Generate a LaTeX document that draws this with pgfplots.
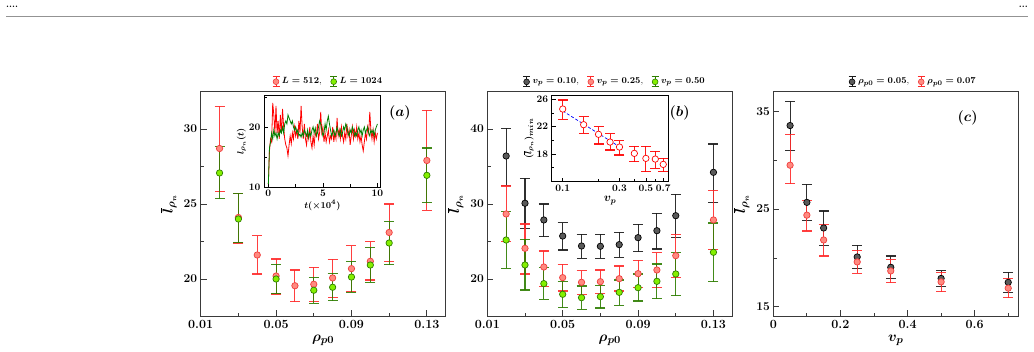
\documentclass[border=0pt]{standalone}
\usepackage{pgfplots}
\usepackage{pgfplotstable}
\pgfplotsset{compat=1.18}

\definecolor{redbar}{HTML}{FF2A2A}
\definecolor{redfill}{HTML}{FF8A80}
\definecolor{rededge}{HTML}{F03C3C}
\definecolor{greenbar}{HTML}{2E7D00}
\definecolor{greenfill}{HTML}{84F000}
\definecolor{greenedge}{HTML}{2E7D00}
\definecolor{greybar}{HTML}{1A1A1A}
\definecolor{greyfill}{HTML}{5A5A5A}
\definecolor{frame}{HTML}{3A3A3A}

% ---------- panel (a): mean domain length vs rho_p0 ----------
\pgfplotstableread{
x     y      lo     hi
0.02  28.70  25.85  31.50
0.03  24.10  22.40  25.70
0.04  21.60  20.33  22.87
0.05  20.20  19.00  21.33
0.06  19.55  18.49  20.60
0.07  19.65  18.50  20.78
0.08  20.07  18.78  21.31
0.09  20.69  19.16  22.22
0.10  21.18  19.93  22.47
0.11  23.10  21.16  25.00
0.13  27.90  24.57  31.24
}\aRed
\pgfplotstableread{
x     y      lo     hi
0.02  27.07  25.34  28.84
0.03  24.00  22.42  25.67
0.05  20.00  19.05  20.98
0.07  19.25  18.38  20.09
0.08  19.45  18.55  20.38
0.09  20.13  19.11  21.18
0.10  20.93  19.78  22.09
0.11  22.40  20.95  23.84
0.13  26.91  25.07  28.73
}\aGreen
% time series l_rho(t), t in units of 10^4
\pgfplotstableread{
t    l
0.0 10.5
0.1 16.0
0.2 18.0
0.3 17.5
0.4 24.0
0.5 22.0
0.6 19.0
0.7 23.5
0.8 19.0
0.9 21.0
1.0 18.0
1.1 22.0
1.2 19.0
1.3 23.0
1.4 20.0
1.5 18.0
1.6 17.0
1.7 16.5
1.8 15.2
1.9 17.0
2.0 18.5
2.1 17.2
2.2 19.0
2.3 18.0
2.4 20.0
2.5 18.5
2.6 19.5
2.7 18.0
2.8 21.0
2.9 19.0
3.0 23.5
3.1 20.0
3.2 18.0
3.3 20.5
3.4 18.0
3.5 17.0
3.6 19.0
3.7 18.0
3.8 20.0
3.9 17.5
4.0 16.5
4.1 18.5
4.2 17.0
4.3 19.0
4.4 18.5
4.5 20.5
4.6 18.0
4.7 19.0
4.8 22.5
4.9 19.0
5.0 20.0
5.1 17.5
5.2 19.0
5.3 17.5
5.4 18.5
5.5 19.5
5.6 17.5
5.7 18.5
5.8 18.0
5.9 20.0
6.0 17.5
6.1 19.0
6.2 18.0
6.3 21.5
6.4 18.5
6.5 19.5
6.6 18.0
6.7 20.0
6.8 18.5
6.9 17.5
7.0 19.0
7.1 18.0
7.2 20.5
7.3 18.5
7.4 19.5
7.5 17.0
7.6 18.5
7.7 20.0
7.8 18.0
7.9 19.5
8.0 18.5
8.1 20.0
8.2 18.0
8.3 19.0
8.4 17.5
8.5 18.5
8.6 17.0
8.7 16.0
8.8 17.5
8.9 19.0
9.0 18.0
9.1 20.0
9.2 19.0
9.3 22.5
9.4 19.5
9.5 18.0
9.6 19.5
9.7 17.5
9.8 19.0
9.9 18.0
10.0 19.0
}\tsRed
\pgfplotstableread{
t    l
0.0 10.5
0.1 16.5
0.2 17.5
0.3 19.0
0.4 18.0
0.5 19.5
0.6 18.5
0.7 19.0
0.8 18.0
0.9 19.0
1.0 18.5
1.1 19.5
1.2 19.0
1.3 20.0
1.4 19.0
1.5 20.5
1.6 21.0
1.7 20.5
1.8 22.0
1.9 21.5
2.0 21.0
2.1 20.5
2.2 21.0
2.3 20.0
2.4 19.5
2.5 20.0
2.6 19.0
2.7 19.5
2.8 18.5
2.9 18.8
3.0 18.3
3.1 19.0
3.2 18.5
3.3 19.5
3.4 19.0
3.5 18.5
3.6 19.5
3.7 18.2
3.8 19.0
3.9 18.5
4.0 19.5
4.1 20.0
4.2 19.0
4.3 19.8
4.4 18.5
4.5 19.0
4.6 20.0
4.7 21.0
4.8 20.5
4.9 19.5
5.0 18.5
5.1 19.0
5.2 20.5
5.3 19.5
5.4 21.0
5.5 21.8
5.6 20.5
5.7 19.5
5.8 18.5
5.9 19.0
6.0 19.5
6.1 18.5
6.2 19.0
6.3 20.0
6.4 19.0
6.5 18.5
6.6 19.5
6.7 18.5
6.8 19.0
6.9 20.0
7.0 19.5
7.1 20.5
7.2 20.0
7.3 19.0
7.4 18.5
7.5 19.5
7.6 19.0
7.7 20.0
7.8 19.5
7.9 18.5
8.0 19.0
8.1 18.5
8.2 19.5
8.3 20.0
8.4 19.0
8.5 19.5
8.6 18.5
8.7 19.5
8.8 20.0
8.9 19.0
9.0 19.5
9.1 20.0
9.2 19.0
9.3 18.5
9.4 19.5
9.5 19.0
9.6 19.5
9.7 18.5
9.8 19.5
9.9 20.0
10.0 20.5
}\tsGreen

% ---------- panel (b): three pinning velocities ----------
\pgfplotstableread{
x     y      lo     hi
0.02  36.40  32.44  40.10
0.03  30.10  26.76  33.43
0.04  27.87  25.64  30.00
0.05  25.73  23.87  27.51
0.06  24.40  22.76  25.96
0.07  24.36  22.76  25.96
0.08  24.58  22.89  26.22
0.09  25.51  23.64  27.29
0.10  26.44  24.00  28.76
0.11  28.44  25.56  31.29
0.13  34.22  30.18  38.00
}\bBlack
\pgfplotstableread{
x     y      lo     hi
0.02  28.67  24.98  32.40
0.03  24.09  20.67  27.33
0.04  21.60  18.98  23.73
0.05  20.18  18.40  21.96
0.06  19.56  17.96  21.11
0.07  19.64  18.04  21.20
0.08  20.04  18.40  21.73
0.09  20.71  18.89  22.49
0.10  21.20  18.89  23.51
0.11  23.11  20.22  25.96
0.13  27.87  23.96  31.78
}\bRed
\pgfplotstableread{
x     y      lo     hi
0.02  25.20  21.42  28.98
0.03  21.87  18.53  25.29
0.04  19.38  17.29  21.51
0.05  17.96  16.18  19.70
0.06  17.51  15.96  19.07
0.07  17.64  16.13  19.15
0.08  18.22  16.49  19.87
0.09  18.84  17.07  20.67
0.10  19.69  17.38  22.00
0.11  20.67  17.78  23.56
0.13  23.56  19.64  27.47
}\bGreen
% minimum of the mean length vs v_p
\pgfplotstableread{
x     y      lo     hi
0.10  24.58  23.10  25.90
0.15  22.29  21.00  23.45
0.20  20.88  19.46  22.00
0.25  19.75  18.58  20.97
0.30  19.02  17.86  19.95
0.40  18.09  16.86  19.12
0.50  17.36  15.40  19.16
0.60  17.26  15.90  18.39
0.70  16.48  15.40  17.36
}\bMin

% ---------- panel (c): mean length vs v_p ----------
\pgfplotstableread{
x     y      lo     hi
0.05  33.56  31.00  36.03
0.10  25.69  23.87  27.54
0.15  23.07  21.30  24.81
0.25  20.10  18.94  21.30
0.35  19.04  17.85  20.20
0.50  17.90  17.10  18.69
0.70  17.50  16.46  18.52
}\cBlack
\pgfplotstableread{
x     y      lo     hi
0.05  29.50  27.60  32.60
0.10  24.38  22.76  25.92
0.15  21.84  20.20  23.45
0.25  19.59  18.43  20.72
0.35  18.67  17.47  19.87
0.50  17.55  16.54  18.52
0.70  16.90  15.90  17.93
}\cRed

\pgfplotsset{
  panel/.style={
    scale only axis, width=245pt, height=225pt,
    axis line style={frame, line width=1.1pt},
    tick pos=left, tick align=inside,
    major tick length=6pt, minor tick length=3.5pt,
    every tick/.style={frame, line width=0.8pt},
    ticklabel style={font=\fontsize{12.5}{13}\selectfont\bfseries\boldmath},
    label style={font=\fontsize{15}{16}\selectfont\boldmath},
    legend style={draw=none, fill=none, legend columns=-1,
      font=\fontsize{9.5}{10}\selectfont\boldmath,
      /tikz/every even column/.append style={column sep=6pt}},
    legend cell align=left,
  },
  inset/.style={
    scale only axis,
    axis background/.style={fill=white},
    axis line style={black, line width=0.9pt},
    tick pos=left, tick align=inside,
    major tick length=4pt, minor tick length=2.5pt,
    every tick/.style={black, line width=0.7pt},
    ticklabel style={font=\fontsize{10}{11}\selectfont\bfseries\boldmath},
    label style={font=\fontsize{9.5}{10}\selectfont\boldmath},
  },
  series/.style n args={3}{
    color=#1, only marks, mark=*, mark size=3.2pt,
    mark options={draw=#2, fill=#3, line width=0.7pt},
    /pgfplots/error bars/y dir=both,
    /pgfplots/error bars/y explicit,
    /pgfplots/error bars/error bar style={line width=1.1pt, #1, opacity=0.9},
    /pgfplots/error bars/error mark options={rotate=90, mark size=5pt, line width=1.1pt, #1, opacity=0.9},
    legend image code/.code={
      \draw[#1, line width=0.9pt] (0pt,-5pt)--(0pt,5pt)
        (-3.5pt,-5pt)--(3.5pt,-5pt) (-3.5pt,5pt)--(3.5pt,5pt);
      \draw[draw=#2, fill=#3, line width=0.6pt] (0pt,0pt) circle (2.9pt);
    },
  },
  table/errtab/.style={x=x, y=y,
    y error plus expr=\thisrow{hi}-\thisrow{y},
    y error minus expr=\thisrow{y}-\thisrow{lo}},
}

\begin{document}
\begin{tikzpicture}
\path[use as bounding box] (0pt,0pt) rectangle (1034pt,352pt);

% running head
\draw[gray!85, line width=0.9pt] (6pt,336pt) -- (1028pt,336pt);
\node[anchor=base west, inner sep=0pt, font=\fontsize{9}{9}\selectfont\bfseries] at (6pt,344pt) {....};
\node[anchor=base east, inner sep=0pt, font=\fontsize{9}{9}\selectfont\bfseries] at (1028pt,344pt) {...};

% ---------------- (a) ----------------
\begin{axis}[panel, at={(200.7pt,35.5pt)}, anchor=south west,
  xmin=0.01, xmax=0.14, ymin=17.5, ymax=32.5,
  xtick={0.01,0.05,0.09,0.13}, minor xtick={0.03,0.07,0.11},
  xticklabels={0.01,0.05,0.09,0.13},
  ytick={20,25,30}, minor ytick={17.5,22.5,27.5},
  xlabel={$\rho_{p0}$}, ylabel={$\overline{l}_{\rho_n}$},
  legend style={at={(0.52,1.008)}, anchor=south},
]
\addplot[series={redbar}{rededge}{redfill}] table[errtab] {\aRed};
\addlegendentry{$L=512$,}
\addplot[series={greenbar}{greenedge}{greenfill}] table[errtab] {\aGreen};
\addlegendentry{$L=1024$}
\node[font=\fontsize{15}{15}\selectfont\boldmath] at (rel axis cs:0.813,0.904) {$(a)$};
\end{axis}

\begin{axis}[inset, at={(264pt,165pt)}, anchor=south west,
  width=116.7pt, height=91.3pt,
  xmin=-0.4, xmax=10.3, ymin=10, ymax=25.2,
  xtick={0,5,10}, minor xtick={2.5,7.5},
  ytick={10,20}, minor ytick={15,25},
  xlabel={$t(\times 10^4)$}, ylabel={$l_{\rho_n}(t)$},
  xlabel style={yshift=4pt}, ylabel style={yshift=-4pt},
]
\addplot[red, line width=0.8pt] table[x=t, y=l] {\tsRed};
\addplot[green!50!black, line width=0.8pt] table[x=t, y=l] {\tsGreen};
\end{axis}

% ---------------- (b) ----------------
\begin{axis}[panel, at={(487.3pt,35.5pt)}, anchor=south west,
  xmin=0.01, xmax=0.14, ymin=15, ymax=45,
  xtick={0.01,0.05,0.09,0.13}, minor xtick={0.03,0.07,0.11},
  xticklabels={0.01,0.05,0.09,0.13},
  ytick={20,30,40}, minor ytick={15,25,35,45},
  xlabel={$\rho_{p0}$}, ylabel={$\overline{l}_{\rho_n}$},
  legend style={at={(0.52,1.008)}, anchor=south},
]
\addplot[series={greybar}{black}{greyfill}] table[errtab] {\bBlack};
\addlegendentry{$v_p=0.10$,}
\addplot[series={redbar}{rededge}{redfill}] table[errtab] {\bRed};
\addlegendentry{$v_p=0.25$,}
\addplot[series={greenbar}{greenedge}{greenfill}] table[errtab] {\bGreen};
\addlegendentry{$v_p=0.50$}
\node[font=\fontsize{15}{15}\selectfont\boldmath] at (rel axis cs:0.785,0.904) {$(b)$};
\end{axis}

\begin{axis}[inset, at={(551.7pt,170.3pt)}, anchor=south west,
  width=116.6pt, height=86pt,
  xmode=log, xmin=0.0808, xmax=0.772, ymin=13.95, ymax=26.53,
  xtick={0.1,0.3,0.5,0.7}, xticklabels={0.1,0.3,0.5,0.7},
  minor xtick={0.2,0.4,0.6},
  ytick={18,22,26}, minor ytick={16,20,24},
  xlabel={$v_p$}, ylabel={$(\overline{l}_{\rho_n})_{min}$},
  xlabel style={yshift=3pt, font=\fontsize{12}{13}\selectfont\boldmath},
  ylabel style={yshift=-4pt},
]
\addplot[blue, densely dashed, line width=0.7pt] coordinates {(0.1,24.3) (0.3,19.06)};
\addplot[series={red}{red}{white}, mark size=3.2pt] table[errtab] {\bMin};
\end{axis}

% ---------------- (c) ----------------
\begin{axis}[panel, at={(773.3pt,35.5pt)}, anchor=south west,
  xmin=0, xmax=0.73, ymin=14, ymax=37.05,
  xtick={0,0.2,0.4,0.6}, minor xtick={0.1,0.3,0.5,0.7},
  xticklabels={0,0.2,0.4,0.6},
  ytick={15,25,35}, minor ytick={20,30},
  xlabel={$v_p$}, ylabel={$\overline{l}_{\rho_n}$},
  legend style={at={(0.57,1.008)}, anchor=south},
]
\addplot[series={greybar}{black}{greyfill}] table[errtab] {\cBlack};
\addlegendentry{$\rho_{p0}=0.05$,}
\addplot[series={redbar}{rededge}{redfill}] table[errtab] {\cRed};
\addlegendentry{$\rho_{p0}=0.07$}
\node[font=\fontsize{15}{15}\selectfont\boldmath] at (rel axis cs:0.793,0.883) {$(c)$};
\end{axis}
\end{tikzpicture}
\end{document}
